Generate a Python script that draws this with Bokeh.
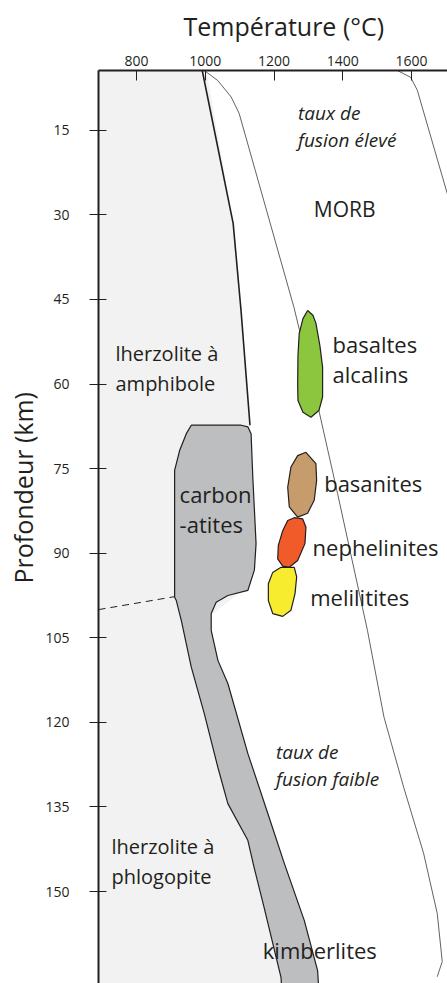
from bokeh.plotting import figure
from bokeh.models import Range1d, LinearAxis, FixedTicker, Title
from bokeh.core.properties import value
from bokeh.embed import file_html
from bokeh.resources import INLINE

# ---------------- data ----------------
temp_ticks = [800, 1000, 1200, 1400, 1600]
depth_ticks = [15, 30, 45, 60, 75, 90, 105, 120, 135, 150]
temp_min, temp_max = 689, 1705
depth_top, depth_bottom = 4.4, 166.3

# solidus (thick line, limit of the lherzolite field)
solidus_T = [991, 1081, 1104, 1130]
solidus_D = [4.4, 31.5, 47.0, 67.3]

# light grey lherzolite field
lherz_T = [680, 991, 1081, 1104, 1130, 1133, 1138, 1148, 1100, 975, 1019, 1075, 1131, 1185, 1234, 1285, 680]
lherz_D = [0, 0, 31.5, 47.0, 67.3, 68.8, 76.5, 88.3, 97, 103, 113, 125.5, 136, 145, 155, 170, 170]

# carbonatites + kimberlites (dark grey)
carb_T = [959.1, 1104.2, 1124.0, 1133.2, 1138.2, 1147.7, 1142.8, 1123.7, 1065.6, 1031.6, 1017.1, 1017.1,
          1036.6, 1065.6, 1123.7, 1181.7, 1229.9, 1288.0, 1326.9, 1333.0, 1225.0, 1220.3, 1171.0, 1141.9,
          1123.7, 1065.6, 1036.6, 996.8, 959.1, 930.0, 915.5, 910.6, 910.6, 925.1, 944.6]
carb_D = [67.3, 67.3, 67.6, 68.8, 76.5, 88.3, 93.0, 96.6, 97.5, 98.7, 100.7, 103.7,
          109.0, 113.1, 125.5, 136.1, 145.0, 155.1, 164.0, 170.0, 170.0, 165.2, 152.8, 145.7,
          140.9, 134.4, 128.0, 118.4, 110.2, 101.9, 98.4, 97.8, 75.3, 71.8, 68.8]

# dashed limit amphibole / phlogopite
dash_T = [689, 910.6]
dash_D = [100.0, 97.7]

# thin curves (melting-rate field)
curveA_T = [996.8, 1036.6, 1075.2, 1098.4, 1258.0, 1330.6, 1384.9, 1472.0, 1520.2, 1577.4, 1635.4, 1675.2, 1689.7, 1675.2]
curveA_D = [4.4, 6.2, 9.1, 12.0, 46.4, 64.7, 79.4, 103.7, 119.1, 131.5, 143.2, 153.9, 162.4, 165.1]
curveB_T = [1559, 1597.7, 1617.1, 1704.2, 1714]
curveB_D = [4.4, 5.6, 7.9, 26.2, 28.2]

# magma fields
basalt_T = [1297.8, 1313.2, 1321.9, 1333.5, 1341.4, 1341.4, 1330.6, 1307.4, 1284.2, 1269.7, 1268.8, 1269.7, 1273.4, 1284.2]
basalt_D = [46.96, 47.8, 49.2, 53.2, 57.0, 62.3, 64.7, 65.9, 65.0, 62.9, 59.9, 54.9, 51.0, 48.4]
basanite_T = [1292.9, 1321.9, 1324.0, 1317.0, 1297.8, 1268.8, 1244.4, 1239.8, 1249.3, 1268.8]
basanite_D = [72.1, 74.1, 77.1, 80.6, 82.9, 83.6, 81.8, 78.3, 74.7, 72.7]
nephel_T = [1258.9, 1283.3, 1292.9, 1290.0, 1268.8, 1244.4, 1225.3, 1210.7, 1212.5, 1225.3, 1239.8]
nephel_D = [83.7, 83.9, 85.4, 88.3, 91.3, 92.5, 92.3, 91.0, 88.6, 86.0, 84.2]
melil_T = [1258.9, 1265.9, 1261.0, 1249.3, 1225.3, 1196.2, 1183.5, 1183.5, 1196.2, 1220.3]
melil_D = [92.5, 94.2, 97.2, 100.1, 101.2, 100.7, 98.4, 95.4, 93.4, 92.5]
field_colors = ["#8cc63f", "#c69c6d", "#f15a29", "#f7ec2e"]

# labels
rock_text = ["basaltes\nalcalins", "basanites", "nephelinites", "melilitites", "carbon\n-atites", "kimberlites"]
rock_T = [1370.4, 1346.0, 1312.3, 1305.4, 925.1, 1167.2]
rock_D = [55.5, 77.6, 88.9, 97.8, 82.1, 160.3]
lherz_text = ["lherzolite à\namphibole", "lherzolite à\nphlogopite"]
lherz_lab_T = [738.5, 726.8]
lherz_lab_D = [57.2, 144.7]
rate_text = ["taux de\nfusion élevé", "taux de\nfusion faible"]
rate_T = [1269.7, 1205.8]
rate_D = [14.4, 127.6]
morb_text = ["MORB"]
morb_T = [1405.5]
morb_D = [28.9]

x_title = "Température (°C)"
y_title = "Profondeur (km)"

# ---------------- figure ----------------
INK = "#231f20"
FONT = "Open Sans"

p = figure(width=447, height=983, output_backend="svg", toolbar_location=None,
           x_range=Range1d(temp_min, temp_max), y_range=Range1d(depth_bottom, depth_top),
           x_axis_location=None, y_axis_location=None,
           min_border_left=97, min_border_top=70, min_border_right=0, min_border_bottom=0)
p.outline_line_color = None
p.xgrid.visible = False
p.ygrid.visible = False
p.background_fill_color = "white"
p.border_fill_color = "white"

xaxis = LinearAxis(ticker=FixedTicker(ticks=temp_ticks))
yaxis = LinearAxis(ticker=FixedTicker(ticks=depth_ticks))
for ax in (xaxis, yaxis):
    ax.axis_line_color = INK
    ax.axis_line_width = 2
    ax.major_tick_line_color = INK
    ax.major_tick_line_width = 1
    ax.minor_tick_line_color = None
    ax.major_label_text_font = FONT
    ax.major_label_text_font_size = "14px"
    ax.major_label_text_color = INK
xaxis.major_tick_in = 10
xaxis.major_tick_out = 0
xaxis.major_label_standoff = 5
yaxis.major_tick_in = 8
yaxis.major_tick_out = 9
yaxis.major_label_standoff = 20
p.add_layout(xaxis, "above")
p.add_layout(yaxis, "left")

p.add_layout(Title(text=x_title, align="left", offset=85, text_font=FONT, text_font_size="25px",
                   text_font_style="normal", text_color=INK, standoff=16, vertical_align="top"), "above")
p.add_layout(Title(text=y_title, align="left", offset=400, text_font=FONT, text_font_size="25px",
                   text_font_style="normal", text_color=INK, standoff=6), "left")

# fields
p.patch(lherz_T, lherz_D, fill_color="#f2f2f2", line_color=None)
p.line(curveA_T, curveA_D, line_color="#3a3a3a", line_width=0.8)
p.line(curveB_T, curveB_D, line_color="#3a3a3a", line_width=0.8)
p.line(solidus_T, solidus_D, line_color=INK, line_width=1.6)
p.patch(carb_T, carb_D, fill_color="#bcbec0", line_color=INK, line_width=1.2)
p.line(dash_T, dash_D, line_color=INK, line_width=1, line_dash="7 5")

fields = [(basalt_T, basalt_D), (basanite_T, basanite_D), (nephel_T, nephel_D), (melil_T, melil_D)]
for (ft, fd), col in zip(fields, field_colors):
    p.patch(ft, fd, fill_color=col, line_color=INK, line_width=1.2)

# texts
p.text(x=rock_T, y=rock_D, text=rock_text, text_font=value(FONT), text_font_size="22px",
       text_color=INK, text_align="left", text_baseline="middle", text_line_height=1.0)
p.text(x=lherz_lab_T, y=lherz_lab_D, text=lherz_text, text_font=value(FONT), text_font_size="20px",
       text_color=INK, text_align="left", text_baseline="middle", text_line_height=1.1)
p.text(x=rate_T, y=rate_D, text=rate_text, text_font=value(FONT), text_font_size="19px",
       text_font_style="italic", text_color=INK, text_align="left", text_baseline="middle",
       text_line_height=1.04)
p.text(x=morb_T, y=morb_D, text=morb_text, text_font=value(FONT), text_font_size="21px",
       text_color=INK, text_align="center", text_baseline="middle")

open("out.html", "w").write(file_html(p, INLINE))
